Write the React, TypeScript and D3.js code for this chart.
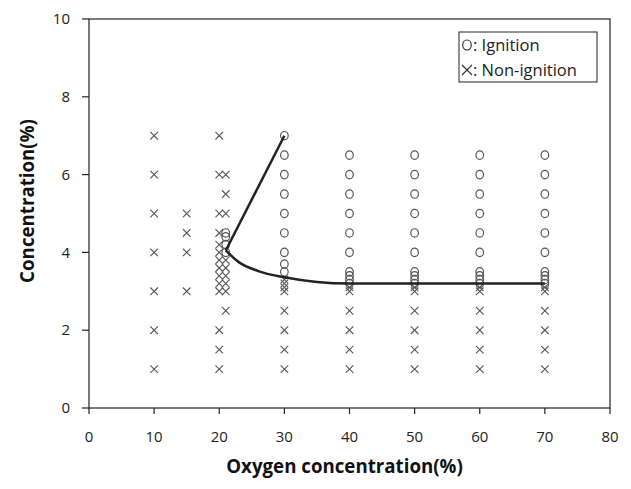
import React from "react";
import * as d3 from "d3";

const xTicks = [0, 10, 20, 30, 40, 50, 60, 70, 80];
const yTicks = [0, 2, 4, 6, 8, 10];

// Ignition (circles)
const ign21 = [4.0, 4.2, 4.4, 4.5];
const ign30 = [7.0, 6.5, 6.0, 5.5, 5.0, 4.5, 4.0, 3.7, 3.5];
const highO2 = [40, 50, 60, 70];
const ignHigh = [6.5, 6.0, 5.5, 5.0, 4.5, 4.0, 3.5, 3.4, 3.3, 3.2];

// Non-ignition (crosses)
const non10 = [1, 2, 3, 4, 5, 6, 7];
const non15 = [3, 4, 4.5, 5];
const non20 = [1, 1.5, 2, 3, 3.2, 3.4, 3.6, 3.8, 4, 4.2, 4.5, 5, 6, 7];
const non21 = [2.5, 3, 3.2, 3.4, 3.6, 3.8, 5, 5.5, 6];
const non30 = [1, 1.5, 2, 2.5, 3, 3.1, 3.2, 3.3];
const nonHigh = [1, 1.5, 2, 2.5, 3, 3.1];

// Boundary lines
const upperLine: [number, number][] = [[21, 4.05], [30, 7.0]];
const lowerLine: [number, number][] = [
  [21, 4.05], [23, 3.75], [26, 3.52], [30, 3.36], [35, 3.24], [40, 3.2], [50, 3.2], [60, 3.2], [70, 3.2],
];

const W = 631, H = 489;
const left = 89, right = 610, top = 19, bottom = 408;
const font = "'Open Sans', sans-serif";

export default function App() {
  const x = d3.scaleLinear().domain([0, 80]).range([left, right]);
  const y = d3.scaleLinear().domain([0, 10]).range([bottom, top]);

  const ign: [number, number][] = [
    ...ign21.map((v) => [21, v] as [number, number]),
    ...ign30.map((v) => [30, v] as [number, number]),
    ...highO2.flatMap((o) => ignHigh.map((v) => [o, v] as [number, number])),
  ];
  const non: [number, number][] = [
    ...non10.map((v) => [10, v] as [number, number]),
    ...non15.map((v) => [15, v] as [number, number]),
    ...non20.map((v) => [20, v] as [number, number]),
    ...non21.map((v) => [21, v] as [number, number]),
    ...non30.map((v) => [30, v] as [number, number]),
    ...highO2.flatMap((o) => nonHigh.map((v) => [o, v] as [number, number])),
  ];

  const straight = d3.line<[number, number]>().x((d) => x(d[0])).y((d) => y(d[1]));
  const smooth = d3
    .line<[number, number]>()
    .x((d) => x(d[0]))
    .y((d) => y(d[1]))
    .curve(d3.curveMonotoneX);

  const cs = 3.8;
  const markColor = "#555";

  return (
    <svg
      width={W}
      height={H}
      style={{ position: "absolute", left: 0, top: 0, background: "#fff" }}
      fontFamily={font}
    >
      <rect x={0} y={0} width={W} height={H} fill="#fff" />
      {/* frame */}
      <rect x={left} y={top} width={right - left} height={bottom - top} fill="none" stroke="#222" strokeWidth={1.2} />
      {/* y ticks */}
      {yTicks.map((t) => (
        <g key={"y" + t}>
          <line x1={left - 7} x2={left} y1={y(t)} y2={y(t)} stroke="#222" strokeWidth={1.2} />
          <text x={70} y={y(t)} dy="0.35em" textAnchor="end" fontSize={15} fill="#222">
            {t}
          </text>
        </g>
      ))}
      {/* x ticks */}
      {xTicks.map((t) => (
        <g key={"x" + t}>
          <line x1={x(t)} x2={x(t)} y1={bottom} y2={bottom + 6} stroke="#222" strokeWidth={1.2} />
          <text x={x(t)} y={437} dy="0.35em" textAnchor="middle" fontSize={15} fill="#222">
            {t}
          </text>
        </g>
      ))}
      {/* axis titles */}
      <text x={(left + right) / 2 - 5} y={466} dy="0.35em" textAnchor="middle" fontSize={18.7} fontWeight="bold" fill="#111">
        Oxygen concentration(%)
      </text>
      <text
        transform={`translate(27,201) rotate(-90)`}
        dy="0.35em"
        textAnchor="middle"
        fontSize={18.7}
        fontWeight="bold"
        fill="#111"
      >
        Concentration(%)
      </text>
      {/* crosses */}
      {non.map((d, i) => (
        <path
          key={"n" + i}
          d={`M${x(d[0]) - cs},${y(d[1]) - cs}L${x(d[0]) + cs},${y(d[1]) + cs}M${x(d[0]) - cs},${y(d[1]) + cs}L${x(d[0]) + cs},${y(d[1]) - cs}`}
          stroke={markColor}
          strokeWidth={1.1}
          fill="none"
        />
      ))}
      {/* circles */}
      {ign.map((d, i) => (
        <ellipse key={"c" + i} cx={x(d[0])} cy={y(d[1])} rx={3.8} ry={4.2} stroke={markColor} strokeWidth={1.2} fill="none" />
      ))}
      {/* boundary lines */}
      <path d={straight(upperLine) || ""} stroke="#222" strokeWidth={2.5} fill="none" />
      <path d={smooth(lowerLine) || ""} stroke="#222" strokeWidth={2.5} fill="none" />
      {/* legend */}
      <rect x={459} y={32} width={138} height={50} fill="#fff" stroke="#222" strokeWidth={1} />
      <ellipse cx={467} cy={45} rx={4.3} ry={5} stroke="#333" strokeWidth={1.2} fill="none" />
      <text x={473} y={45} dy="0.35em" fontSize={16.5} fill="#222">
        : Ignition
      </text>
      <path d={`M462,65L472,75M462,75L472,65`} stroke="#333" strokeWidth={1.1} fill="none" />
      <text x={473} y={70} dy="0.35em" fontSize={16.5} fill="#222">
        : Non-ignition
      </text>
    </svg>
  );
}
